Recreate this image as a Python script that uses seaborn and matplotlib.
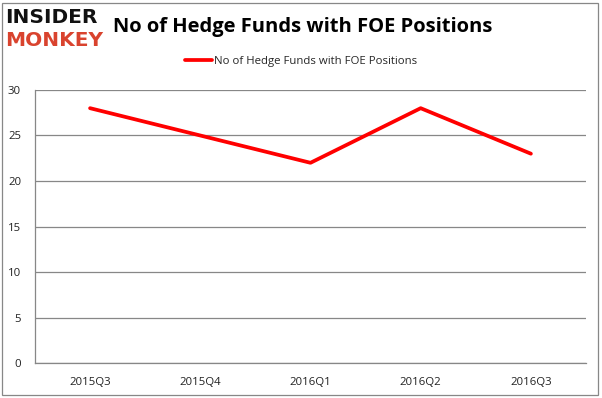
import matplotlib
matplotlib.use("Agg")
import matplotlib.pyplot as plt
import seaborn as sns
import pandas as pd
from matplotlib.patches import Rectangle

quarters = ["2015Q3", "2015Q4", "2016Q1", "2016Q2", "2016Q3"]
funds = [28, 25, 22, 28, 23]
series_name = "No of Hedge Funds with FOE Positions"

data = pd.DataFrame({"quarter": quarters, "funds": funds})

sns.set_style("white")
plt.rcParams["font.family"] = ["Open Sans", "DejaVu Sans"]

fig = plt.figure(figsize=(6.02, 3.98), dpi=100)
ax = fig.add_axes([0.0581, 0.0879, 0.9153, 0.686])

sns.lineplot(x="quarter", y="funds", data=data, ax=ax, color="#FF0000",
             linewidth=2.7, label=series_name, sort=False)

ax.set_xlim(-0.5, 4.5)
ax.set_ylim(0, 30)
ax.set_yticks(range(0, 31, 5))
ax.set_xticks(range(len(quarters)))
ax.set_xticklabels(quarters)
ax.set_xticks([i - 0.5 for i in range(len(quarters) + 1)], minor=True)
ax.tick_params(axis="x", which="major", length=0, pad=10, labelsize=8.2, colors="#222222")
ax.tick_params(axis="x", which="minor", length=4, color="#878787", direction="out")
ax.tick_params(axis="y", length=4, color="#878787", direction="out", labelsize=8.2,
               labelcolor="#222222", pad=6)
ax.set_xlabel("")
ax.set_ylabel("")
ax.yaxis.grid(True, color="#878787", linewidth=0.9)
ax.set_axisbelow(True)
for side in ["top", "right"]:
    ax.spines[side].set_visible(False)
for side in ["left", "bottom"]:
    ax.spines[side].set_color("#878787")
    ax.spines[side].set_linewidth(0.9)

leg = ax.legend(loc="center", bbox_to_anchor=(0.483, 1.103), frameon=False,
                fontsize=8.2, handlelength=2.4, handletextpad=0.2)

fig.text(0.187, 0.932, "No of Hedge Funds with FOE Positions", fontsize=14.5,
         fontweight="bold", va="center", ha="left", color="black")

fig.text(0.009, 0.957, "INSIDER", fontsize=14.5, fontweight="heavy",
         family="DejaVu Sans", va="center", ha="left", color="#111111")
fig.text(0.008, 0.899, "MONKEY", fontsize=14.5, fontweight="heavy",
         family="DejaVu Sans", va="center", ha="left", color="#D9432E")

fig.patches.append(Rectangle((0.004, 0.008), 0.99, 0.985, transform=fig.transFigure,
                             fill=False, edgecolor="#878787", linewidth=0.9))

fig.savefig("out.png", dpi=100)
